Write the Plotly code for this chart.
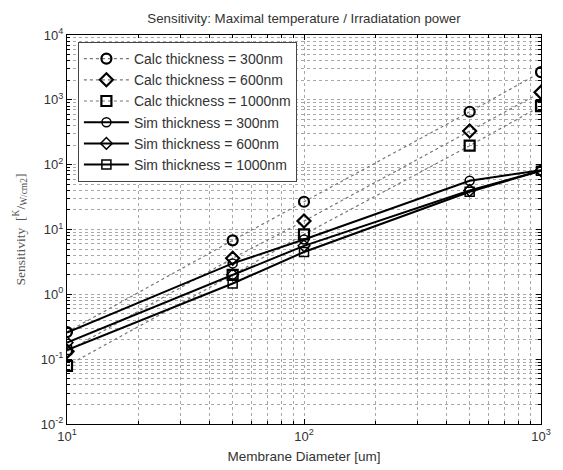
import plotly.graph_objects as go

diam = [10, 50, 100, 500, 1000]

calc_300 = [0.262, 6.8, 26.8, 655, 2680]
calc_600 = [0.132, 3.6, 13.5, 330, 1305]
calc_1000 = [0.079, 2.0, 8.4, 196, 802]

sim_300 = [0.258, 3.0, 7.0, 56.5, 82]
sim_600 = [0.180, 2.0, 5.6, 40.0, 81]
sim_1000 = [0.138, 1.47, 4.5, 38.2, 80.5]

x_tickvals = [10, 100, 1000]
x_ticktext = ["10<sup>1</sup>", "10<sup>2</sup>", "10<sup>3</sup>"]
y_tickvals = [0.01, 0.1, 1, 10, 100, 1000, 10000]
y_ticktext = ["10<sup>-2</sup>", "10<sup>-1</sup>", "10<sup>0</sup>", "10<sup>1</sup>",
              "10<sup>2</sup>", "10<sup>3</sup>", "10<sup>4</sup>"]

fig = go.Figure()

calc_series = [("Calc thickness = 300nm", calc_300, "circle-open"),
               ("Calc thickness = 600nm", calc_600, "diamond-open"),
               ("Calc thickness = 1000nm", calc_1000, "square-open")]
sim_series = [("Sim thickness = 300nm", sim_300, "circle-open"),
              ("Sim thickness = 600nm", sim_600, "diamond-open"),
              ("Sim thickness = 1000nm", sim_1000, "square-open")]

for name, vals, sym in calc_series:
    fig.add_trace(go.Scatter(
        x=diam, y=vals, name=name, mode="lines+markers",
        line=dict(color="#777777", width=1.2, dash="dot"),
        marker=dict(symbol=sym, size=10, color="black", line=dict(width=2.2, color="black")),
    ))
for name, vals, sym in sim_series:
    fig.add_trace(go.Scatter(
        x=diam, y=vals, name=name, mode="lines+markers",
        line=dict(color="black", width=2),
        marker=dict(symbol=sym, size=9, color="black", line=dict(width=1.5, color="black")),
    ))

grid_col = "#a8a8a8"
common = dict(
    showgrid=True, gridcolor=grid_col, griddash="dot", gridwidth=1,
    ticks="inside", ticklen=5, tickcolor="black",
    showline=True, linecolor="black", linewidth=1, mirror="ticks",
    zeroline=False, automargin=False,
    tickfont=dict(size=13, color="#333333"),
)
minor = dict(dtick="D1", showgrid=True, gridcolor=grid_col, griddash="dot", gridwidth=1,
             ticks="inside", ticklen=3, tickcolor="black")

fig.update_xaxes(
    type="log", range=[1, 3],
    tickvals=x_tickvals, ticktext=x_ticktext,
    minor=minor,
    title=dict(text="Membrane Diameter [um]", font=dict(size=13.5, color="#333333"), standoff=8),
    **common,
)
fig.update_yaxes(
    type="log", range=[-2, 4],
    tickvals=y_tickvals, ticktext=y_ticktext,
    minor=minor,
    title=dict(text="Sensitivity  [<sup>K</sup>/<sub>W/cm2</sub>]",
               font=dict(size=13.5, color="#555555", family="Liberation Serif"), standoff=12),
    **common,
)

fig.update_layout(
    width=563, height=470,
    margin=dict(l=67, r=22, t=35, b=46),
    paper_bgcolor="white", plot_bgcolor="white",
    font=dict(family="Liberation Sans, Arial, sans-serif", color="#333333"),
    title=dict(text="Sensitivity: Maximal temperature / Irradiatation power",
               x=(67 + 541) / 2 / 563, xanchor="center", y=1 - 18 / 470, yanchor="middle",
               font=dict(size=13.3, color="#333333")),
    showlegend=True,
    legend=dict(x=0.023, y=0.982, xanchor="left", yanchor="top",
                bgcolor="white", bordercolor="#444444", borderwidth=1,
                font=dict(size=14, color="#333333"), tracegroupgap=0,
                itemwidth=45),
)

fig.write_html("out.html")
